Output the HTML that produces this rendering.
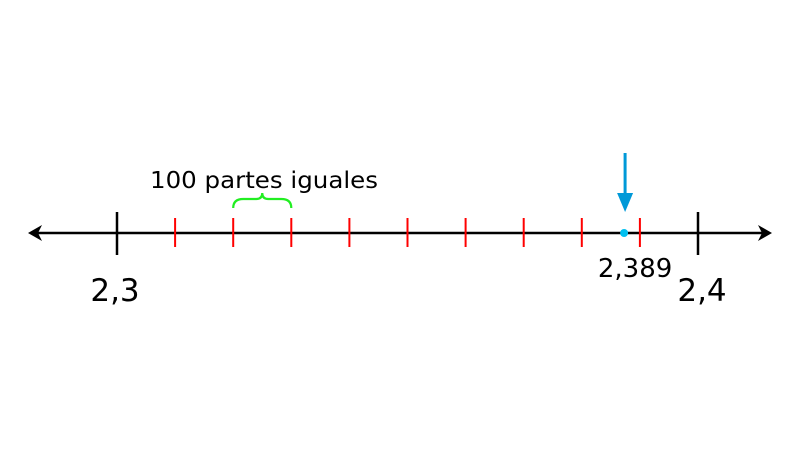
<!DOCTYPE html>
<html><head><meta charset="utf-8"><style>
html,body{margin:0;padding:0;background:#fff;}
svg{display:block;font-family:"DejaVu Sans","Liberation Sans",sans-serif;}
</style></head><body>
<svg id="chart" width="800" height="458" viewBox="0 0 800 458"></svg>
<script>
const majorValues = [2.3, 2.4];
const majorLabels = ["2,3", "2,4"];
const minorValues = [2.31, 2.32, 2.33, 2.34, 2.35, 2.36, 2.37, 2.38, 2.39];
const pointValue = [2.389];
const pointLabel = ["2,389"];
const braceRange = [2.32, 2.33];
const captionText = ["100 partes iguales"];

const NS = "http://www.w3.org/2000/svg";
const svg = document.getElementById("chart");
const x0 = 117, x1 = 698, Y = 233;
function sx(v){ return x0 + (v - majorValues[0]) / (majorValues[1] - majorValues[0]) * (x1 - x0); }
function mk(tag, attrs, parent){
  const e = document.createElementNS(NS, tag);
  for (const k in attrs) e.setAttribute(k, attrs[k]);
  (parent || svg).appendChild(e);
  return e;
}

let e = mk("line", {x1: 36, y1: Y, x2: 764, y2: Y, stroke: "#000", "stroke-width": 2.5});


e = mk("polygon", {points: "28,233 42,225 38,233 42,241", fill: "#000"});


e = mk("polygon", {points: "772,233 758,225 762,233 758,241", fill: "#000"});



minorValues.forEach(v => {
  const t = mk("line", {x1: sx(v), y1: 218, x2: sx(v), y2: 247, stroke: "#f00", "stroke-width": 2});
  
  
});
majorValues.forEach((v, i) => {
  const t = mk("line", {x1: sx(v), y1: 212, x2: sx(v), y2: 255, stroke: "#000", "stroke-width": 2.5});
  
  
  const l = mk("text", {x: sx(v) + (i ? 4 : -2), y: 301, "text-anchor": "middle", "font-size": 31, fill: "#000"});
  l.textContent = majorLabels[i];
  
  
});

const bx1 = sx(braceRange[0]), bx2 = sx(braceRange[1]), bm = (bx1 + bx2) / 2;
e = mk("path", {d: `M${bx1},208 Q${bx1},199 ${bx1+10},199 L${bm-6},199 Q${bm},199 ${bm},193 Q${bm},199 ${bm+6},199 L${bx2-10},199 Q${bx2},199 ${bx2},208`, fill: "none", stroke: "#22ee22", "stroke-width": 2.2});



e = mk("text", {x: 150, y: 188, "font-size": 23, textLength: 228, lengthAdjust: "spacingAndGlyphs", fill: "#000"});
e.textContent = captionText[0];



const px = sx(pointValue[0]) - 10;
e = mk("line", {x1: px + 1, y1: 153, x2: px + 1, y2: 202, stroke: "#0099d8", "stroke-width": 3});


e = mk("polygon", {points: `${px-7},193 ${px+9},193 ${px+1},212`, fill: "#0099d8"});


e = mk("circle", {cx: px, cy: Y, r: 4, fill: "#00c0f0"});


e = mk("text", {x: px + 11, y: 277, "text-anchor": "middle", "font-size": 26, fill: "#000"});
e.textContent = pointLabel[0];


</script>
</body></html>
